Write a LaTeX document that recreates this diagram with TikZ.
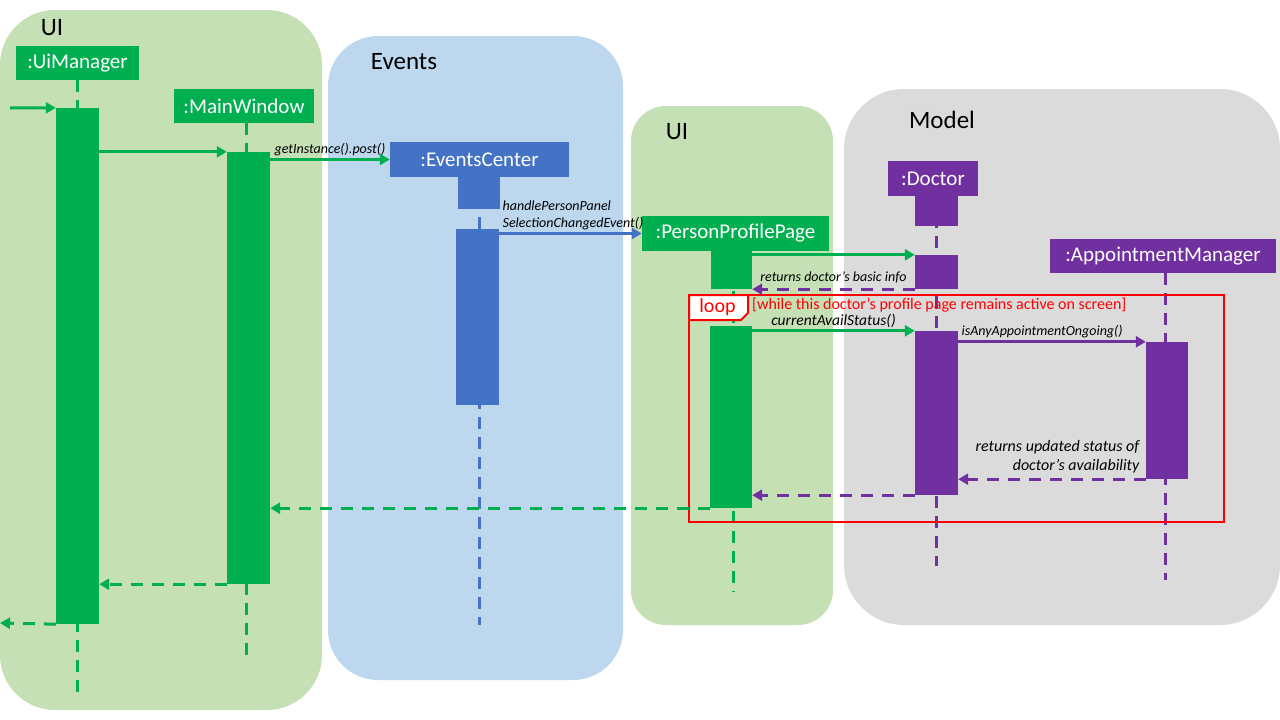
\documentclass[tikz,border=0pt]{standalone}
\usepackage{fontspec}
\setmainfont{Carlito}
\usetikzlibrary{arrows.meta}
\definecolor{uibg}{HTML}{C5E0B4}
\definecolor{evbg}{HTML}{BDD7EE}
\definecolor{modelbg}{HTML}{DBDBDB}
\definecolor{sgreen}{HTML}{00B050}
\definecolor{sblue}{HTML}{4472C4}
\definecolor{spurple}{HTML}{7030A0}
\begin{document}
\begin{tikzpicture}[x=1pt,y=-1pt,
    head/.style={fill=#1, text=white, inner sep=0pt, minimum height=34pt, font=\fontsize{21}{25}\selectfont},
    act/.style={fill=#1, inner sep=0pt, minimum width=43pt},
    life/.style={draw=#1, line width=3pt, dash pattern=on 12pt off 8pt},
    call/.style={draw=#1, line width=3pt, -{Triangle[length=10pt,width=11pt]}},
    ret/.style={call=#1, dash pattern=on 12pt off 9pt},
    lbl/.style={font=\fontsize{14}{17}\selectfont\itshape, inner sep=2pt},
    group/.style={font=\fontsize{25}{30}\selectfont}]
    \useasboundingbox (0,0) rectangle (1280,720);

    \fill[uibg, rounded corners=55pt] (0,10) rectangle (322,710);
    \fill[evbg, rounded corners=50pt] (328,36) rectangle (623,680);
    \fill[uibg, rounded corners=35pt] (631,106) rectangle (833,625);
    \fill[modelbg, rounded corners=60pt] (844,89) rectangle (1280,625);
    \node[group] (uiL) at (52,28) {UI};
    \node[group] (evL) at (404,62) {Events};
    \node[group] (ui2L) at (677,132) {UI};
    \node[group] (modelL) at (942,120) {Model};

    \node[head=sgreen, minimum width=123pt] (uim) at (77.5,63) {:UiManager};
    \node[head=sgreen, minimum width=140pt] (mw) at (244,106) {:MainWindow};
    \node[head=sblue, minimum width=179pt, minimum height=35pt] (ec) at (479.5,159.5) {:EventsCenter};
    \node[head=sgreen, minimum width=187pt, minimum height=35pt] (ppp) at (735.5,233.5) {:PersonProfilePage};
    \node[head=spurple, minimum width=90pt, minimum height=35pt] (doc) at (933,178.5) {:Doctor};
    \node[head=spurple, minimum width=226pt] (am) at (1163,256) {:AppointmentManager};

    \coordinate (uimEnd) at (77.5,697);
    \coordinate (mwEnd) at (246,662);
    \coordinate (ecEnd) at (479.5,625);
    \coordinate (pppEnd) at (733,592);
    \coordinate (docEnd) at (936,566);
    \coordinate (amEnd) at (1165,580);
    \draw[life=sgreen] (uim.south) -- (uimEnd);
    \draw[life=sgreen] (mw.south -| mwEnd) -- (mwEnd);
    \draw[life=sblue] (ec.south) -- (ecEnd);
    \draw[life=sgreen] (ppp.south -| pppEnd) -- (pppEnd);
    \draw[life=spurple] (doc.south -| docEnd) -- (docEnd);
    \draw[life=spurple] (am.south -| amEnd) -- (amEnd);

    \node[act=sgreen, minimum height=516pt] (uimAct) at (77.5,366) {};
    \node[act=sgreen, minimum height=432pt] (mwAct) at (248.5,368) {};
    \node[act=sblue, minimum width=42pt, minimum height=32pt] (ecAct1) at (479,193) {};
    \node[act=sblue, minimum height=176pt] (ecAct2) at (477.5,317) {};
    \node[act=sgreen, minimum width=41pt, minimum height=38pt] (pppAct1) at (731.5,270) {};
    \node[act=sgreen, minimum width=42pt, minimum height=182pt] (pppAct2) at (731,417) {};
    \node[act=spurple, minimum height=30pt] (docAct1) at (936.5,211) {};
    \node[act=spurple, minimum height=34pt] (docAct2) at (936.5,272) {};
    \node[act=spurple, minimum height=164pt] (docAct3) at (936.5,413) {};
    \node[act=spurple, minimum width=42pt, minimum height=137pt] (amAct) at (1167,410.5) {};

    \draw[red, line width=2pt] (689,295) rectangle (1224,522);
    \draw[red, line width=2pt, fill=white] (689,295) -- (748,295) -- (748,313) -- (741,320) -- (689,320) -- cycle;
    \node[red, font=\fontsize{20}{24}\selectfont] (loopTag) at (717.5,307) {loop};
    \node[red, anchor=west, inner sep=0pt, font=\fontsize{16}{19}\selectfont] (loopCond) at (752,305) {[while this doctor’s profile page remains active on screen]};

    \coordinate (start) at (10,108);
    \coordinate (finish) at (0,623);
    \draw[call=sgreen] (start) -- (uimAct.north west);
    \draw[call=sgreen] (uimAct.east |- mwAct.north) -- (mwAct.north west);
    \draw[call=sgreen] (mwAct.east |- ec.west) -- node[lbl, above] (postL) {getInstance().post()} (ec.west);
    \draw[call=sblue] (ecAct2.east |- ppp.west) -- node[lbl, above right, align=left, pos=0] (handleL) {handlePersonPanel\\SelectionChangedEvent()} (ppp.west);
    \draw[call=sgreen] (pppAct1.east |- docAct2.north) -- (docAct2.north west);
    \draw[ret=spurple] (docAct2.south west) -- node[lbl, above, inner sep=5pt] (basicL) {returns doctor’s basic info} (pppAct1.east |- docAct2.south);
    \draw[call=sgreen] (pppAct2.east |- docAct3.north) -- node[lbl, above, font=\fontsize{15.5}{18}\selectfont\itshape] (availL) {currentAvailStatus()} (docAct3.north west);
    \draw[call=spurple] (docAct3.east |- amAct.north) -- node[lbl, above right, pos=0] (ongoingL) {isAnyAppointmentOngoing()} (amAct.north west);
    \draw[ret=spurple] (amAct.south west) -- node[lbl, above left, align=right, pos=0, inner sep=5pt, font=\fontsize{16}{19}\selectfont\itshape] (statusL) {returns updated status of\\doctor’s availability} (docAct3.east |- amAct.south);
    \draw[ret=spurple] (docAct3.south west) -- (pppAct2.east |- docAct3.south);
    \draw[ret=sgreen] (pppAct2.south west) -- (mwAct.east |- pppAct2.south);
    \draw[ret=sgreen] (mwAct.south west) -- (uimAct.east |- mwAct.south);
    \draw[ret=sgreen] (uimAct.south west) -- (finish);
\end{tikzpicture}
\end{document}
